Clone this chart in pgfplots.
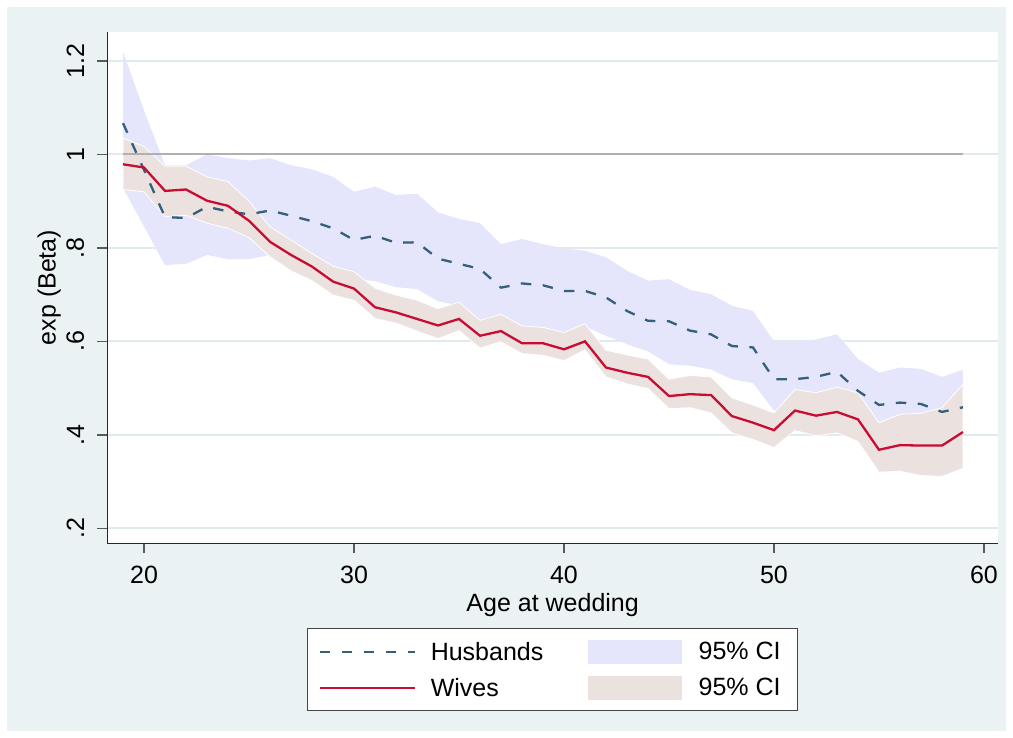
\documentclass[border=0pt]{standalone}
\usepackage{fontspec}
\setmainfont{Liberation Sans}
\usepackage{pgfplots}
\pgfplotsset{compat=1.18}
\usepackage{pgfplotstable}
\usepgfplotslibrary{fillbetween}

\definecolor{outerbg}{RGB}{234,242,243}
\definecolor{gridc}{RGB}{225,235,238}
\definecolor{hband}{RGB}{229,229,251}
\definecolor{wband}{RGB}{235,226,224}
\definecolor{hline}{RGB}{53,96,123}
\definecolor{wline}{RGB}{200,12,50}
\definecolor{refc}{RGB}{176,176,176}
\definecolor{axc}{RGB}{40,40,40}
\definecolor{tickc}{RGB}{90,90,90}
\definecolor{legc}{RGB}{70,70,70}

\pgfplotstableread{
age h hlo hhi w wlo whi
19 1.067 0.928 1.220 0.979 0.925 1.035
20 0.967 0.846 1.094 0.972 0.920 1.017
21 0.866 0.763 0.977 0.922 0.867 0.975
22 0.864 0.766 0.977 0.925 0.870 0.975
23 0.888 0.785 1.000 0.901 0.853 0.952
24 0.878 0.776 0.992 0.890 0.842 0.942
25 0.872 0.776 0.987 0.858 0.822 0.900
26 0.880 0.785 0.992 0.813 0.781 0.845
27 0.869 0.778 0.977 0.785 0.751 0.817
28 0.857 0.768 0.968 0.760 0.730 0.788
29 0.842 0.761 0.952 0.728 0.699 0.761
30 0.817 0.733 0.920 0.713 0.688 0.749
31 0.826 0.729 0.931 0.673 0.649 0.714
32 0.811 0.716 0.913 0.662 0.639 0.699
33 0.812 0.712 0.916 0.648 0.622 0.688
34 0.777 0.686 0.876 0.634 0.606 0.670
35 0.766 0.677 0.862 0.648 0.623 0.684
36 0.755 0.640 0.853 0.612 0.586 0.645
37 0.715 0.652 0.808 0.622 0.599 0.658
38 0.724 0.630 0.819 0.596 0.574 0.633
39 0.720 0.628 0.808 0.596 0.570 0.630
40 0.708 0.615 0.799 0.583 0.559 0.619
41 0.708 0.632 0.794 0.600 0.582 0.638
42 0.694 0.612 0.780 0.544 0.524 0.581
43 0.665 0.594 0.751 0.533 0.509 0.571
44 0.644 0.579 0.730 0.524 0.499 0.562
45 0.643 0.551 0.733 0.483 0.456 0.519
46 0.623 0.548 0.710 0.487 0.458 0.527
47 0.615 0.540 0.701 0.485 0.447 0.524
48 0.590 0.519 0.676 0.440 0.404 0.479
49 0.587 0.511 0.665 0.426 0.390 0.464
50 0.519 0.452 0.600 0.410 0.373 0.447
51 0.519 0.450 0.599 0.452 0.409 0.497
52 0.524 0.455 0.604 0.441 0.398 0.490
53 0.535 0.465 0.615 0.449 0.404 0.502
54 0.494 0.434 0.562 0.433 0.386 0.490
55 0.464 0.404 0.533 0.368 0.320 0.426
56 0.469 0.404 0.544 0.378 0.322 0.444
57 0.466 0.401 0.541 0.377 0.313 0.446
58 0.449 0.385 0.524 0.377 0.311 0.458
59 0.459 0.391 0.539 0.406 0.328 0.508
}\data

\newcommand{\fs}{\fontsize{25}{30}\selectfont}
\pagecolor{outerbg}

\begin{document}
\begin{tikzpicture}
\fill[white, even odd rule] (0,0) rectangle (1013pt,738pt) (7pt,7pt) rectangle (1006pt,731pt);
\begin{axis}[
 at={(107.3pt,194.7pt)}, anchor=south west,
 scale only axis, width=890.7pt, height=511.6pt,
 xmin=18.252, xmax=60.667, ymin=0.1679, ymax=1.2627,
 axis background/.style={fill=white},
 axis x line*=bottom, axis y line*=left,
 axis line style={-, draw=axc, line width=1.4pt},
 tick align=outside, major tick length=10pt,
 tick style={draw=tickc, line width=1.4pt},
 xtick={20,30,40,50,60}, xticklabels={20,30,40,50,60},
 ytick={0.2,0.4,0.6,0.8,1,1.2}, yticklabels={.2,.4,.6,.8,1,1.2},
 minor tick num=0,
 ymajorgrids,
 grid style={draw=gridc, line width=2pt},
 tick label style={font=\fs, inner sep=0pt},
 xticklabel style={anchor=north},
 yticklabel style={rotate=90, anchor=south},
 xticklabel shift=12.7pt, yticklabel shift=13pt,
 xlabel={Age at wedding}, ylabel={exp (Beta)},
 every axis x label/.style={at={(axis description cs:0.5,-0.0966)}, anchor=north, inner sep=0pt, font=\fs},
 every axis y label/.style={at={(axis description cs:-0.0579,0.5)}, rotate=90, anchor=base, inner sep=0pt, font=\fs},
 legend columns=2, legend cell align=left,
 legend style={at={(0.5,-0.1661)}, anchor=north, draw=legc, line width=1.2pt, fill=white,
   inner xsep=11pt, inner ysep=5pt, column sep=0pt, row sep=0pt,
   nodes={inner sep=0pt, draw=none, font=\fs}},
]
\addplot[name path=hu, draw=none, forget plot] table[x=age, y=hhi]{\data};
\addplot[name path=hl, draw=none, forget plot] table[x=age, y=hlo]{\data};
\addplot[fill=hband, draw=none, forget plot] fill between[of=hu and hl];
\addplot[name path=wu, draw=none, forget plot] table[x=age, y=whi]{\data};
\addplot[name path=wl, draw=none, forget plot] table[x=age, y=wlo]{\data};
\addplot[fill=wband, draw=white, line width=0.8pt, forget plot] fill between[of=wu and wl];
\addplot[refc, line width=2pt, forget plot] coordinates {(19,1) (59,1)};
\addplot[hline, line width=2.3pt, dash pattern=on 10.5pt off 11.5pt, forget plot] table[x=age, y=h]{\data};
\addplot[wline, line width=2.3pt, forget plot] table[x=age, y=w]{\data};

\addlegendimage{legend image code/.code={\draw[hline, line width=2.3pt, dash pattern=on 10.5pt off 11.5pt] (0pt,0pt) -- (95pt,0pt); \path[draw=none,fill=none] (0pt,-18pt) rectangle (111pt,18pt);}}
\addlegendentry{Husbands}
\addlegendimage{legend image code/.code={\fill[hband, draw=none] (0pt,-12pt) rectangle (93.3pt,12pt); \path[draw=none,fill=none] (-45pt,-18pt) rectangle (110.3pt,18pt);}}
\addlegendentry{95\% CI\kern6pt}
\addlegendimage{legend image code/.code={\draw[wline, line width=2.3pt] (0pt,0pt) -- (95pt,0pt); \path[draw=none,fill=none] (0pt,-18pt) rectangle (111pt,18pt);}}
\addlegendentry{Wives}
\addlegendimage{legend image code/.code={\fill[wband, draw=none] (0pt,-12pt) rectangle (93.3pt,12pt); \path[draw=none,fill=none] (-45pt,-18pt) rectangle (110.3pt,18pt);}}
\addlegendentry{95\% CI\kern6pt}
\end{axis}
\end{tikzpicture}
\end{document}
